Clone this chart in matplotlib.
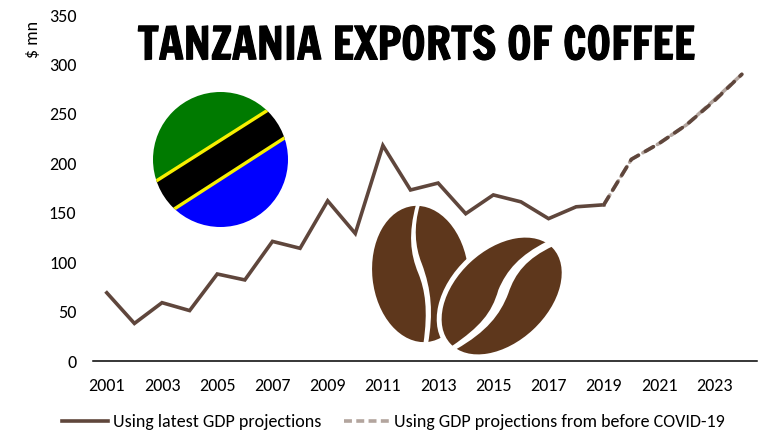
import matplotlib
matplotlib.use('Agg')
import matplotlib.pyplot as plt
import matplotlib.patheffects as pe
from matplotlib.patches import Circle, Ellipse, PathPatch, Polygon
from matplotlib.path import Path
from matplotlib.lines import Line2D

plt.rcParams['font.family'] = ['Carlito', 'Lato', 'DejaVu Sans']

# Data
years = list(range(2001, 2025))
latest = [69, 38, 59, 51, 88, 82, 121, 114, 162, 129, 218, 173, 180, 149, 168, 161, 144, 156, 158]
proj_years = [2019, 2020, 2021, 2022, 2023, 2024]
proj_latest = [158, 204, 220, 239, 263, 290]
proj_before = [158, 204, 220, 239, 264, 290]
x_labels = list(range(2001, 2025, 2))
y_ticks = [0, 50, 100, 150, 200, 250, 300, 350]

DARK = '#5f463c'
LIGHT = '#b3a59e'
BEAN = '#5e371c'
W, H = 777, 437

fig = plt.figure(figsize=(W / 100, H / 100), dpi=100)

# Main chart, placed to pixel positions
left, right, top, bottom = 93, 757, 15, 361
ax = fig.add_axes([left / W, 1 - bottom / H, (right - left) / W, (bottom - top) / H])
ax.set_xlim(2000.5, 2024.55)
ax.set_ylim(0, 350)
ax.plot(years[:19], latest, color=DARK, lw=2.6, solid_joinstyle='miter')
ax.plot(proj_years, proj_before, color=LIGHT, lw=2.6, ls=(0, (3.2, 1.4)), dash_capstyle='round')
ax.plot(proj_years, proj_latest, color=DARK, lw=2.6, ls=(0, (2.6, 2.2)), dash_capstyle='round')
for s in ['top', 'left', 'right']:
    ax.spines[s].set_visible(False)
ax.spines['bottom'].set_linewidth(1.1)
ax.set_xticks(x_labels)
ax.set_yticks(y_ticks)
ax.tick_params(axis='both', length=0, labelsize=13, colors='black')
ax.tick_params(axis='x', pad=12)
ax.tick_params(axis='y', pad=12)
ax.patch.set_alpha(0)

# Overlay in pixel coordinates for title, flag and beans
ov = fig.add_axes([0, 0, 1, 1])
ov.set_xlim(0, W)
ov.set_ylim(H, 0)
ov.axis('off')
ov.patch.set_alpha(0)

ov.text(33, 39.5, '$ mn', rotation=90, ha='center', va='center', fontsize=13)
title = ov.text(416, 46, 'TANZANIA EXPORTS OF COFFEE', ha='center', va='center', fontsize=32.2,
                family=['Francois One', 'Fjalla One', 'Oswald', 'DejaVu Sans'], color='black')
title.set_path_effects([pe.withStroke(linewidth=0.8, foreground='black')])

# Flag
clip = Circle((220.5, 159.5), 67.5, transform=ov.transData)
bands = [
    ('#0000ff', [(120, 244), (320, 115), (320, 300), (120, 300)]),
    ('#007a00', [(120, 204), (320, 77), (320, 60), (120, 60)]),
    ('black', [(120, 204), (320, 77), (320, 115), (120, 244)]),
    ('#f7f000', [(120, 202), (320, 75), (320, 79), (120, 206)]),
    ('#f7f000', [(120, 242), (320, 113), (320, 117), (120, 246)]),
]
for colour, pts in bands:
    band = ov.add_patch(Polygon(pts, closed=True, facecolor=colour, edgecolor='none'))
    band.set_clip_path(clip)


# Beans were traced on a crop, so convert those points to figure pixels
def crop_pt(p):
    return (350 + p[0] / 3, 190 + p[1] / 3)


def crease(points):
    codes = [Path.MOVETO] + [Path.CURVE4] * 6 + [Path.LINETO] + [Path.CURVE4] * 6 + [Path.CLOSEPOLY]
    verts = [crop_pt(p) for p in points] + [crop_pt(points[0])]
    ov.add_patch(PathPatch(Path(verts, codes), facecolor='white', edgecolor='none'))


ov.add_patch(Ellipse(crop_pt((211, 252)), 410 / 3, 288 / 3, angle=84, facecolor=BEAN, edgecolor='none'))
crease([(198, 44), (175, 130), (180, 190), (205, 250), (225, 300), (235, 360), (220, 462),
        (234, 462), (250, 370), (245, 300), (215, 220), (195, 170), (190, 110), (210, 44)])
ov.add_patch(Ellipse(crop_pt((455, 318)), 450 / 3, 306 / 3, angle=-43, facecolor='white', edgecolor='none'))
ov.add_patch(Ellipse(crop_pt((455, 318)), 420 / 3, 276 / 3, angle=-43, facecolor=BEAN, edgecolor='none'))
crease([(590, 155), (510, 195), (470, 240), (445, 300), (425, 370), (390, 410), (306, 468),
        (318, 478), (410, 425), (450, 375), (475, 310), (495, 250), (530, 205), (610, 168)])

# Legend
handles = [Line2D([], [], color=DARK, lw=2.6),
           Line2D([], [], color=LIGHT, lw=2.6, ls=(0, (2.2, 1.2)))]
fig.legend(handles, ['Using latest GDP projections', 'Using GDP projections from before COVID-19'],
           loc='center left', bbox_to_anchor=(62 / W, 1 - 422 / H), ncol=2, frameon=False,
           fontsize=13, handlelength=2.55, handletextpad=0.25, columnspacing=1.25,
           borderpad=0, borderaxespad=0)

fig.savefig('out.png', dpi=100)
